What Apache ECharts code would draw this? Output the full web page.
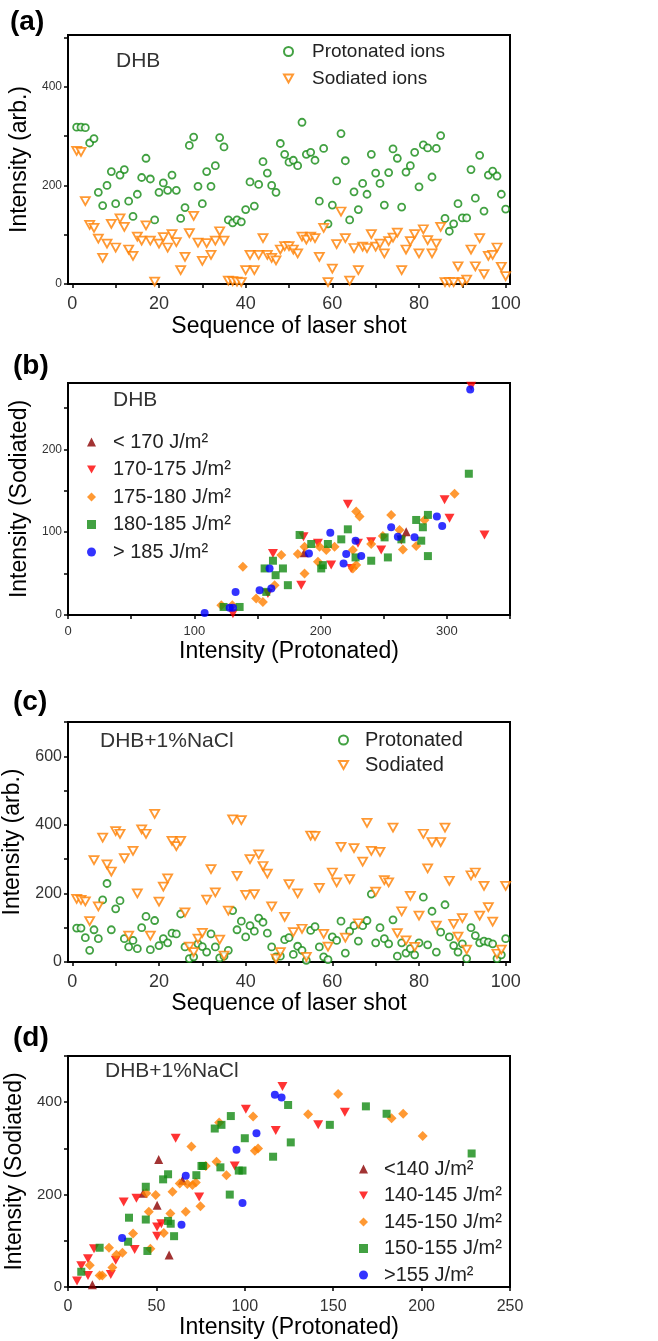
<!DOCTYPE html>
<html lang="en">
<head>
    <meta charset="UTF-8" />
    <title>DHB laser shot intensities</title>
    <script src="https://cdn.jsdelivr.net/npm/echarts@6/dist/echarts.min.js"></script>
    <style>
        html, body { margin: 0; padding: 0; background: #fff; }
        #main { width: 658px; height: 1341px; }
    </style>
</head>
<body>
    <div id="main"></div>

    <script type="text/javascript">
        // (a) DHB, intensity per laser shot 1..100
        let protonatedA = [318, 318, 317, 286, 295, 186, 159, 200, 228, 163,
            221, 232, 168, 137, 182, 216, 255, 213, 130, 186,
            205, 190, 221, 190, 133, 155, 281, 298, 198, 163,
            228, 198, 240, 297, 278, 130, 124, 130, 126, 151,
            207, 158, 202, 248, 225, 200, 186, 285, 263, 247,
            251, 240, 328, 263, 267, 251, 168, 275, 122, 160,
            209, 305, 250, 130, 187, 151, 204, 182, 263, 225,
            204, 160, 226, 274, 255, 156, 227, 240, 267, 197,
            282, 276, 217, 275, 301, 133, 107, 122, 163, 134,
            134, 232, 174, 261, 148, 221, 229, 219, 182, 152];
        let sodiatedA = [270, 268, 168, 120, 114, 92, 53, 82, 122, 74,
            133, 116, 70, 57, 96, 88, 119, 88, 5, 82,
            95, 74, 101, 85, 28, 55, 103, 138, 84, 47,
            83, 59, 88, 107, 88, 7, 6, 5, 4, 28,
            59, 28, 59, 93, 59, 53, 48, 70, 77, 77,
            70, 62, 96, 90, 96, 93, 55, 114, 4, 31,
            81, 147, 93, 7, 73, 28, 76, 73, 101, 76,
            82, 62, 87, 94, 104, 28, 70, 87, 101, 62,
            111, 89, 62, 82, 116, 4, 4, 4, 36, 4,
            9, 70, 36, 93, 20, 57, 59, 74, 35, 16];

        // (b) DHB, sodiated vs protonated, grouped by fluence
        let fluenceB = ["< 170 J/m²", "170-175 J/m²", "175-180 J/m²", "180-185 J/m²", "> 185 J/m²"];
        let groupB1 = [[267.8, 100.6], [187, 75]];
        let groupB2 = [[221.6, 133.7], [186.5, 94.5], [162.3, 74.3], [184.7, 36], [197.9, 86.5],
            [208.4, 60.2], [229.6, 86.5], [240.1, 88.5], [248, 78.4], [224.3, 56.2],
            [298.2, 139], [302.1, 116.8], [329.8, 96.6], [319.3, 276], [158.3, 25.9],
            [130.6, 1.6], [264, 90.5]];
        let groupB3 = [[138.5, 58.2], [149, 19.8], [154.3, 15.8], [163.6, 36], [168.9, 72.3],
            [182, 73.5], [187.3, 82.4], [187.3, 50.1], [197.9, 64.2], [204.5, 78.4],
            [211.1, 82.4], [225.6, 56.2], [228.2, 60.2], [225.6, 78.4], [228.2, 124.8],
            [230.9, 118.8], [240.1, 85.7], [249.3, 95.4], [255.9, 120.8], [262.5, 102.6],
            [265.2, 79.2], [275.7, 83.2], [282.3, 114.7], [306.1, 146.3], [121.4, 11.7],
            [130.1, 11.7], [199.2, 82.4]];
        let groupB4 = [[123.2, 9.7], [135.9, 9.7], [155.7, 56.2], [162.3, 65.5], [164.4, 48.1],
            [170.2, 56.2], [174.1, 36], [183.4, 96.6], [192.6, 85.7], [200.5, 56.2],
            [201.8, 60.2], [205.8, 85.7], [216.4, 91.3], [221.6, 103.4], [227.7, 69.5],
            [240.1, 65.5], [250.7, 93.7], [253.3, 69.5], [264, 91.3], [275.7, 114.7],
            [279.7, 89.7], [281, 105.9], [285, 120.8], [285, 71.1], [317.4, 170.5],
            [157, 27.9]];
        let groupB5 = [[108.2, 2.4], [128, 8.9], [130.6, 8.9], [132.7, 27.9], [151.7, 29.9],
            [159.6, 56.2], [161, 31.9], [190.8, 74.3], [207.7, 99.4], [220.3, 73.5],
            [218.2, 62.2], [227.7, 89.7], [232.2, 71.1], [255.9, 105.9], [261.2, 94.5],
            [274.4, 93.7], [292.1, 118.8], [296.3, 107.5], [318.5, 272.3]];

        // (c) DHB+1%NaCl, intensity per laser shot 1..100
        let protonatedC = [99, 99, 71, 34, 94, 68, 181, 229, 94, 155,
            179, 68, 44, 63, 39, 100, 133, 36, 121, 48,
            68, 56, 84, 82, 140, 44, 10, 15, 53, 45,
            29, 82, 44, 12, 17, 34, 150, 94, 119, 73,
            106, 90, 128, 116, 84, 44, 15, 17, 65, 71,
            22, 46, 34, 5, 92, 103, 44, 15, 7, 73,
            63, 119, 26, 90, 106, 61, 106, 121, 198, 56,
            100, 68, 53, 123, 17, 56, 26, 39, 21, 56,
            189, 50, 148, 29, 87, 167, 73, 48, 29, 53,
            10, 100, 77, 56, 61, 58, 53, 10, 21, 68];
        let sodiatedC = [184, 181, 177, 119, 297, 162, 363, 285, 264, 382,
            374, 303, 77, 324, 200, 387, 374, 77, 432, 176,
            220, 244, 353, 338, 353, 145, 45, 29, 68, 85,
            182, 271, 203, 65, 19, 150, 416, 251, 414, 196,
            300, 198, 314, 280, 258, 162, 10, 29, 132, 227,
            87, 200, 97, 15, 369, 368, 216, 82, 45, 261,
            232, 336, 71, 242, 332, 113, 293, 406, 324, 205,
            321, 239, 232, 392, 84, 148, 63, 193, 44, 135,
            374, 273, 350, 106, 350, 392, 237, 111, 74, 128,
            36, 253, 261, 135, 222, 160, 118, 24, 36, 222];

        // (d) DHB+1%NaCl, sodiated vs protonated, grouped by fluence
        let fluenceD = ["<140 J/m²", "140-145 J/m²", "145-150 J/m²", "150-155 J/m²", ">155 J/m²"];
        let groupD1 = [[51.3, 276], [50.4, 177], [42.5, 203], [64.7, 231], [57.2, 69], [13.8, 5]];
        let groupD2 = [[5.1, 13], [7.5, 46], [11.3, 61], [11.3, 25], [14.7, 83], [24.2, 27],
            [27, 58], [31.5, 184], [37.7, 81], [38.7, 192], [50.4, 130], [50.4, 110],
            [52.8, 137], [60.9, 322], [74.2, 195], [94.3, 262], [100.6, 385], [117.5, 339],
            [121.3, 434], [141.5, 351], [156.6, 378]];
        let groupD3 = [[12.3, 47], [17.9, 25], [19.4, 25], [23.2, 85], [25.1, 42], [27.4, 70],
            [30.8, 74], [36.8, 116], [44.3, 203], [45.7, 163], [46.6, 83], [49.6, 199],
            [54.2, 117], [59.1, 206], [57.9, 159], [63.2, 224], [66.6, 163], [67.5, 223],
            [69.8, 304], [70.4, 221], [72.3, 226], [74.9, 175], [77.9, 262], [84, 271],
            [85.5, 356], [89.6, 242], [104.7, 369], [105.7, 295], [107.5, 300], [135.8, 374],
            [152.8, 418], [183, 365], [189.6, 375], [200.6, 327]];
        let groupD4 = [[7.5, 33], [17.9, 85], [34, 98], [34.5, 150], [44, 217], [44, 146],
            [44.9, 78], [53.8, 233], [56.6, 244], [56.6, 143], [58.1, 137], [60, 110],
            [72.6, 242], [75.5, 262], [76.4, 262], [83, 343], [86.2, 259], [86.8, 351],
            [91.5, 200], [92.1, 370], [96.6, 252], [98.7, 252], [100, 322], [116, 282],
            [124.5, 394], [126, 313], [148.1, 351], [168.5, 391], [180.2, 375], [228.3, 289]];
        let groupD5 = [[30.6, 106], [64.2, 135], [66.6, 241], [95.3, 297], [98.7, 182],
            [106.6, 333], [117, 416], [120.8, 410]];

        // tick values
        let shotTicks = [0, 10, 20, 30, 40, 50, 60, 70, 80, 90, 100];
        let shotLabels = [0, 20, 40, 60, 80, 100];
        let yTicksA = [0, 100, 200, 300, 400, 500];
        let yLabelsA = [0, 200, 400];
        let xTicksB = [0, 50, 100, 150, 200, 250, 300, 350];
        let xLabelsB = [0, 100, 200, 300];
        let yTicksB = [0, 50, 100, 150, 200, 250];
        let yLabelsB = [0, 100, 200];
        let yTicksC = [0, 100, 200, 300, 400, 500, 600, 700];
        let yLabelsC = [0, 200, 400, 600];
        let xTicksD = [0, 50, 100, 150, 200, 250];
        let yTicksD = [0, 100, 200, 300, 400, 500];
        let yLabelsD = [0, 200, 400];

        const FONT = "'Liberation Sans', Arial, sans-serif";
        const GREEN = "#138a13";
        const ORANGE = "#ff8000";
        const DARKRED = "#8b0000";
        const RED = "#ff0000";
        const BLUE = "#0000ff";
        // pointing-down triangle, used for the sodiated / 170-175 / 140-145 markers
        const DOWN_TRI = "path://M0,0L10,0L5,9Z";

        function bySequence(values) {
            // pair each value with its shot number (1..100)
            return values.map((v, i) => [i + 1, v]);
        }

        function makeAxis(gridIndex, min, max, ticks, labels, labelSize, labelMargin, axisName, nameGap) {
            return {
                type: "value",
                gridIndex: gridIndex,
                min: min,
                max: max,
                name: axisName,
                nameLocation: "middle",
                nameGap: nameGap,
                nameTextStyle: { fontFamily: FONT, fontSize: 23, color: "#000" },
                splitLine: { show: false },
                axisLine: { show: true, onZero: false, lineStyle: { color: "#000", width: 2 } },
                axisTick: { show: true, customValues: ticks, length: 4, lineStyle: { color: "#000", width: 1.5 } },
                axisLabel: {
                    customValues: labels,
                    fontFamily: FONT,
                    fontSize: labelSize,
                    color: "#333",
                    margin: labelMargin
                }
            };
        }

        function frame(top, height) {
            return {
                left: 68, width: 442, top: top, height: height,
                outerBoundsMode: "none",
                containLabel: false,
                show: true, borderColor: "#000", borderWidth: 2,
                backgroundColor: "transparent"
            };
        }

        let options = {
            backgroundColor: "#fff",
            animation: false,
            grid: [frame(35, 249), frame(383, 232), frame(722, 240), frame(1056, 231)],
            xAxis: [
                makeAxis(0, -1, 101, shotTicks, shotLabels, 18, 11, "Sequence of laser shot", 31),
                makeAxis(1, 0, 350, xTicksB, xLabelsB, 13, 10, "Intensity (Protonated)", 25),
                makeAxis(2, -1, 101, shotTicks, shotLabels, 18, 11, "Sequence of laser shot", 27),
                makeAxis(3, 0, 250, xTicksD, xTicksD, 16, 12, "Intensity (Protonated)", 29)
            ],
            yAxis: [
                makeAxis(0, 0, 505, yTicksA, yLabelsA, 12, 6, "Intensity (arb.)", 32),
                makeAxis(1, 0, 280, yTicksB, yLabelsB, 12, 6, "Intensity (Sodiated)", 32),
                makeAxis(2, 0, 700, yTicksC, yLabelsC, 16, 6, "Intensity (arb.)", 35),
                makeAxis(3, 0, 500, yTicksD, yLabelsD, 15, 6, "Intensity (Sodiated)", 35)
            ],
            legend: [
                {
                    data: ["Protonated ions", "Sodiated ions"],
                    orient: "vertical", left: 278, top: 37,
                    itemWidth: 9, itemHeight: 9, itemGap: 8,
                    textStyle: { fontFamily: FONT, fontSize: 19, color: "#222", padding: [0, 0, 0, 14] }
                },
                {
                    data: fluenceB,
                    orient: "vertical", left: 82, top: 427,
                    itemWidth: 9, itemHeight: 9, itemGap: 7.5,
                    textStyle: { fontFamily: FONT, fontSize: 20, color: "#222", padding: [0, 0, 0, 12] }
                },
                {
                    data: ["Protonated", "Sodiated"],
                    orient: "vertical", left: 333, top: 725,
                    itemWidth: 9, itemHeight: 9, itemGap: 5,
                    textStyle: { fontFamily: FONT, fontSize: 20, color: "#222", padding: [0, 0, 0, 12] }
                },
                {
                    data: fluenceD,
                    orient: "vertical", left: 354, top: 1154,
                    itemWidth: 9, itemHeight: 9, itemGap: 6.5,
                    textStyle: { fontFamily: FONT, fontSize: 20, color: "#222", padding: [0, 0, 0, 11] }
                }
            ],
            graphic: [
                { type: "text", left: 10, top: 8, style: { text: "(a)", font: "bold 28px " + FONT, fill: "#000" } },
                { type: "text", left: 13, top: 352, style: { text: "(b)", font: "bold 28px " + FONT, fill: "#000" } },
                { type: "text", left: 13, top: 688, style: { text: "(c)", font: "bold 28px " + FONT, fill: "#000" } },
                { type: "text", left: 13, top: 1024, style: { text: "(d)", font: "bold 28px " + FONT, fill: "#000" } },
                { type: "text", left: 116, top: 51, style: { text: "DHB", font: "21px " + FONT, fill: "#333" } },
                { type: "text", left: 113, top: 390, style: { text: "DHB", font: "21px " + FONT, fill: "#333" } },
                { type: "text", left: 100, top: 731, style: { text: "DHB+1%NaCl", font: "21px " + FONT, fill: "#333" } },
                { type: "text", left: 105, top: 1061, style: { text: "DHB+1%NaCl", font: "21px " + FONT, fill: "#333" } }
            ],
            series: [
                {
                    name: "Protonated ions", type: "scatter", xAxisIndex: 0, yAxisIndex: 0,
                    data: bySequence(protonatedA), symbol: "circle", symbolSize: 7,
                    itemStyle: { color: "#fff", borderColor: GREEN, borderWidth: 1.8 }
                },
                {
                    name: "Sodiated ions", type: "scatter", xAxisIndex: 0, yAxisIndex: 0,
                    data: bySequence(sodiatedA), symbol: DOWN_TRI, symbolSize: [9, 8],
                    itemStyle: { color: "#fff", borderColor: ORANGE, borderWidth: 1.8 }
                },
                { name: fluenceB[0], type: "scatter", xAxisIndex: 1, yAxisIndex: 1, data: groupB1, symbol: "triangle", symbolSize: 9, itemStyle: { color: DARKRED } },
                { name: fluenceB[1], type: "scatter", xAxisIndex: 1, yAxisIndex: 1, data: groupB2, symbol: DOWN_TRI, symbolSize: [10, 9], itemStyle: { color: RED } },
                { name: fluenceB[2], type: "scatter", xAxisIndex: 1, yAxisIndex: 1, data: groupB3, symbol: "diamond", symbolSize: 10, itemStyle: { color: ORANGE } },
                { name: fluenceB[3], type: "scatter", xAxisIndex: 1, yAxisIndex: 1, data: groupB4, symbol: "rect", symbolSize: 8, itemStyle: { color: GREEN } },
                { name: fluenceB[4], type: "scatter", xAxisIndex: 1, yAxisIndex: 1, data: groupB5, symbol: "circle", symbolSize: 8, itemStyle: { color: BLUE } },
                {
                    name: "Protonated", type: "scatter", xAxisIndex: 2, yAxisIndex: 2,
                    data: bySequence(protonatedC), symbol: "circle", symbolSize: 7,
                    itemStyle: { color: "#fff", borderColor: GREEN, borderWidth: 1.8 }
                },
                {
                    name: "Sodiated", type: "scatter", xAxisIndex: 2, yAxisIndex: 2,
                    data: bySequence(sodiatedC), symbol: DOWN_TRI, symbolSize: [9, 8],
                    itemStyle: { color: "#fff", borderColor: ORANGE, borderWidth: 1.8 }
                },
                { name: fluenceD[0], type: "scatter", xAxisIndex: 3, yAxisIndex: 3, data: groupD1, symbol: "triangle", symbolSize: 9, itemStyle: { color: DARKRED } },
                { name: fluenceD[1], type: "scatter", xAxisIndex: 3, yAxisIndex: 3, data: groupD2, symbol: DOWN_TRI, symbolSize: [10, 9], itemStyle: { color: RED } },
                { name: fluenceD[2], type: "scatter", xAxisIndex: 3, yAxisIndex: 3, data: groupD3, symbol: "diamond", symbolSize: 10, itemStyle: { color: ORANGE } },
                { name: fluenceD[3], type: "scatter", xAxisIndex: 3, yAxisIndex: 3, data: groupD4, symbol: "rect", symbolSize: 8, itemStyle: { color: GREEN } },
                { name: fluenceD[4], type: "scatter", xAxisIndex: 3, yAxisIndex: 3, data: groupD5, symbol: "circle", symbolSize: 8, itemStyle: { color: BLUE } }
            ]
        };

        let myChart = echarts.init(document.getElementById("main"), null, { renderer: "canvas" });
        myChart.setOption(options);
    </script>
</body>
</html>
